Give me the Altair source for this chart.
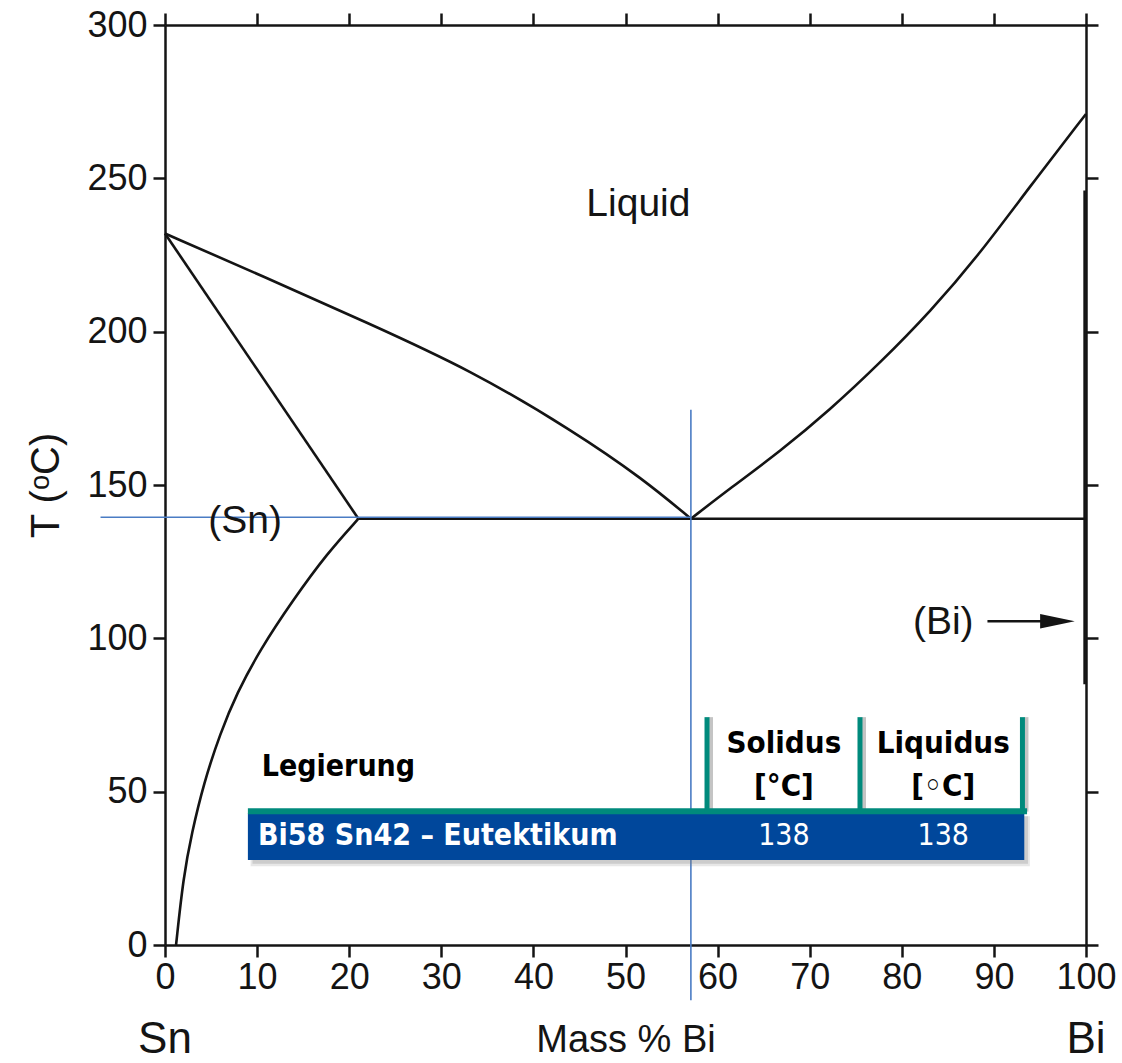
import altair as alt
import pandas as pd

# ---------------- data ----------------
# Phase boundaries (x = mass % Bi, t = temperature in °C)
sn_solidus_x = [0, 21]
sn_solidus_t = [232, 139]
liq_left_x = [0, 10.7, 21.9, 33.2, 44.4, 51.9, 57.1]
liq_left_t = [232, 218, 203, 187.5, 167.5, 152, 139]
liq_right_x = [57.1, 61.4, 66.8, 72.2, 77.6, 83.1, 88.5, 93.9, 100]
liq_right_t = [139, 149, 161, 174.5, 189.7, 206.5, 225.5, 247.3, 271]
solvus_x = [21, 17.6, 13.9, 10.3, 7.8, 6.0, 4.2, 2.9, 2.0, 1.2]
solvus_t = [139, 127.7, 112.5, 96.2, 82.1, 69.1, 52.7, 36.4, 22.3, 0]
eutectic_x = [21, 100]
eutectic_t = [139, 139]
bi_solidus_x = [99.85, 99.85]
bi_solidus_t = [246, 85]

# Guide lines through the eutectic point
guide_x = [-7.0, 57.1]
guide_x2 = [57.1, 57.1]
guide_t = [139.5, 174.5]
guide_t2 = [139.5, -18.0]

# Region labels
region_labels = ["Liquid", "(Sn)", "(Bi)"]
region_x = [51.4, 8.7, 84.5]
region_t = [241.5, 138.3, 105.3]

# Arrow from "(Bi)"
arrow_x = [89.3, 96.0]
arrow_t = [105.6, 105.6]
arrow_head_x = [96.9]

# Element labels under the axis
element_labels = ["Sn", "Bi"]
element_x = [0, 100]
element_t = [-31, -31]

# Alloy table
table_cols = ["Solidus", "Liquidus"]
table_units = ["[°C]", "[◦C]"]
table_col_x = [67.2, 84.5]
table_row_label = "Bi58 Sn42 – Eutektikum"
table_header_label = "Legierung"
table_values = ["138", "138"]
table_x0, table_x1 = 9.0, 93.3
table_t0, table_t1 = 27.7, 43.0
teal_t0, teal_t1 = 42.6, 44.6
divider_x = [58.85, 75.46, 93.1]
divider_t0, divider_t1 = 43.5, 74.3

# ---------------- build tables ----------------
rows = []
for name, xs_, ts_ in [("sn_solidus", sn_solidus_x, sn_solidus_t),
                       ("liq_left", liq_left_x, liq_left_t),
                       ("liq_right", liq_right_x, liq_right_t),
                       ("solvus", solvus_x, solvus_t),
                       ("bi_solidus", bi_solidus_x, bi_solidus_t)]:
    for i, (x, t) in enumerate(zip(xs_, ts_)):
        rows.append({"curve": name, "i": i, "x": x, "t": t})
curves = pd.DataFrame(rows)
eut = pd.DataFrame({"x": eutectic_x, "t": eutectic_t, "i": [0, 1]})
guides = pd.DataFrame({"x": guide_x, "x2": guide_x2, "t": guide_t, "t2": guide_t2})
regions = pd.DataFrame({"label": region_labels, "x": region_x, "t": region_t})
arrow = pd.DataFrame({"x": [arrow_x[0]], "x2": [arrow_x[1]], "t": [arrow_t[0]]})
arrow_head = pd.DataFrame({"x": arrow_head_x, "t": [arrow_t[0]]})
elements = pd.DataFrame({"label": element_labels, "x": element_x, "t": element_t})

xs = alt.Scale(domain=[0, 100], nice=False, zero=False)
ys = alt.Scale(domain=[0, 300], nice=False, zero=False)
INK = "#141414"
BLUE_GUIDE = "#4a7cc4"
NAVY = "#00479b"
TEAL = "#008a7c"
SANS = "Liberation Sans, Arial, sans-serif"
NARROW = "DejaVu Sans Condensed, Liberation Sans Narrow, sans-serif"

bottom_axis = alt.Axis(values=list(range(0, 101, 10)), orient="bottom", grid=False,
                       tickSize=12, tickWidth=2.5, tickColor=INK, domainColor=INK, domainWidth=2.5,
                       labelFont=SANS, labelFontSize=36, labelColor=INK, labelPadding=3,
                       labelFlush=False, labelOverlap=False,
                       title="Mass % Bi", titleFont=SANS, titleFontSize=38, titleFontWeight="normal",
                       titleColor=INK, titlePadding=26)
left_axis = alt.Axis(values=list(range(0, 301, 50)), orient="left", grid=False,
                     tickSize=12, tickWidth=2.5, tickColor=INK, domainColor=INK, domainWidth=2.5,
                     labelFont=SANS, labelFontSize=36, labelColor=INK, labelPadding=6,
                     labelFlush=False, labelOverlap=False,
                     title="T (ᵒC)", titleFont=SANS, titleFontSize=40, titleFontWeight="normal",
                     titleColor=INK, titlePadding=20)
top_axis = alt.Axis(values=list(range(0, 101, 10)), orient="top", grid=False, labels=False,
                    tickSize=12, tickWidth=2.5, tickColor=INK, domainColor=INK, domainWidth=2.5,
                    title=None)
right_axis = alt.Axis(values=list(range(0, 301, 50)), orient="right", grid=False, labels=False,
                      tickSize=12, tickWidth=2.5, tickColor=INK, domainColor=INK, domainWidth=2.5,
                      title=None)

curve_layer = alt.Chart(curves).mark_line(color=INK, strokeWidth=2.6, interpolate="basis").encode(
    x=alt.X("x:Q", scale=xs, axis=bottom_axis),
    y=alt.Y("t:Q", scale=ys, axis=left_axis),
    detail="curve:N",
    order="i:Q",
)

eut_layer = alt.Chart(eut).mark_line(color=INK, strokeWidth=2.6).encode(
    x=alt.X("x:Q", scale=xs, axis=top_axis),
    y=alt.Y("t:Q", scale=ys, axis=right_axis),
    order="i:Q",
)

guide_layer = alt.Chart(guides).mark_rule(color=BLUE_GUIDE, strokeWidth=1.6, clip=False).encode(
    x=alt.X("x:Q", scale=xs, axis=None), x2="x2:Q",
    y=alt.Y("t:Q", scale=ys, axis=None), y2="t2:Q",
)

region_layer = alt.Chart(regions).mark_text(font=SANS, fontSize=39, color=INK).encode(
    x=alt.X("x:Q", scale=xs, axis=None), y=alt.Y("t:Q", scale=ys, axis=None), text="label:N")

arrow_layer = alt.Chart(arrow).mark_rule(color=INK, strokeWidth=2.5).encode(
    x=alt.X("x:Q", scale=xs, axis=None), x2="x2:Q", y=alt.Y("t:Q", scale=ys, axis=None))
head_layer = alt.Chart(arrow_head).mark_point(
    shape="M -1 -0.42 L 1 0 L -1 0.42 Z", filled=True, opacity=1, color=INK, size=1200).encode(
    x=alt.X("x:Q", scale=xs, axis=None), y=alt.Y("t:Q", scale=ys, axis=None))

element_layer = alt.Chart(elements).mark_text(font=SANS, fontSize=44, color=INK, clip=False).encode(
    x=alt.X("x:Q", scale=xs, axis=None), y=alt.Y("t:Q", scale=ys, axis=None), text="label:N")

# --- table overlay ---
shadow = pd.DataFrame({"x": [table_x0 + 0.3, table_x0 + 0.5], "x2": [table_x1 + 0.6, table_x1 + 0.4],
                       "t": [table_t0 - 2.0, table_t0 - 1.2], "t2": [table_t1 - 1.0, table_t1 - 1.0],
                       "o": [0.18, 0.25]})
shadow_layer = alt.Chart(shadow).mark_rect(color="#7a7a7a").encode(
    x=alt.X("x:Q", scale=xs, axis=None), x2="x2:Q",
    y=alt.Y("t:Q", scale=ys, axis=None), y2="t2:Q",
    opacity=alt.Opacity("o:Q", scale=None))

box = pd.DataFrame({"x": [table_x0], "x2": [table_x1], "t": [table_t0], "t2": [table_t1]})
box_layer = alt.Chart(box).mark_rect(color=NAVY).encode(
    x=alt.X("x:Q", scale=xs, axis=None), x2="x2:Q",
    y=alt.Y("t:Q", scale=ys, axis=None), y2="t2:Q")

teal = pd.DataFrame({"x": [table_x0], "x2": [table_x1 + 0.3], "t": [teal_t0], "t2": [teal_t1]})
teal_layer = alt.Chart(teal).mark_rect(color=TEAL).encode(
    x=alt.X("x:Q", scale=xs, axis=None), x2="x2:Q",
    y=alt.Y("t:Q", scale=ys, axis=None), y2="t2:Q")

dividers = pd.DataFrame({"x": divider_x, "t": [divider_t0] * 3, "t2": [divider_t1] * 3})
div_shadow_layer = alt.Chart(dividers).mark_rule(color="#c4c4c4", strokeWidth=4, xOffset=4).encode(
    x=alt.X("x:Q", scale=xs, axis=None),
    y=alt.Y("t:Q", scale=ys, axis=None), y2="t2:Q")
div_layer = alt.Chart(dividers).mark_rule(color=TEAL, strokeWidth=5).encode(
    x=alt.X("x:Q", scale=xs, axis=None),
    y=alt.Y("t:Q", scale=ys, axis=None), y2="t2:Q")

hdr = pd.DataFrame({"label": table_cols + table_units,
                    "x": table_col_x + table_col_x,
                    "t": [65.5, 65.5, 51.5, 51.5]})
hdr_layer = alt.Chart(hdr).mark_text(font=NARROW, fontSize=31, fontWeight="bold", color="#000000").encode(
    x=alt.X("x:Q", scale=xs, axis=None), y=alt.Y("t:Q", scale=ys, axis=None), text="label:N")

leg = pd.DataFrame({"label": [table_header_label], "x": [10.5], "t": [58.0]})
leg_layer = alt.Chart(leg).mark_text(font=NARROW, fontSize=30, fontWeight="bold", color="#000000",
                                     align="left").encode(
    x=alt.X("x:Q", scale=xs, axis=None), y=alt.Y("t:Q", scale=ys, axis=None), text="label:N")

rowlab = pd.DataFrame({"label": [table_row_label], "x": [10.1], "t": [35.5]})
rowlab_layer = alt.Chart(rowlab).mark_text(font=NARROW, fontSize=30, fontWeight="bold", color="#ffffff",
                                           align="left").encode(
    x=alt.X("x:Q", scale=xs, axis=None), y=alt.Y("t:Q", scale=ys, axis=None), text="label:N")

vals = pd.DataFrame({"label": table_values, "x": table_col_x, "t": [35.5, 35.5]})
vals_layer = alt.Chart(vals).mark_text(font=NARROW, fontSize=30, fontWeight="normal", color="#ffffff").encode(
    x=alt.X("x:Q", scale=xs, axis=None), y=alt.Y("t:Q", scale=ys, axis=None), text="label:N")

chart = alt.layer(
    curve_layer, eut_layer, guide_layer, region_layer, arrow_layer, head_layer, element_layer,
    shadow_layer, div_shadow_layer, box_layer, teal_layer, div_layer,
    hdr_layer, leg_layer, rowlab_layer, vals_layer,
).resolve_axis(x="independent", y="independent").properties(
    width=921, height=920,
    autosize=alt.AutoSizeParams(type="none"),
    padding={"left": 165, "top": 25, "right": 36, "bottom": 118},
    background="#ffffff",
).configure_view(stroke=None)

chart.save("out.html", embed_options={"renderer": "svg", "actions": False})
